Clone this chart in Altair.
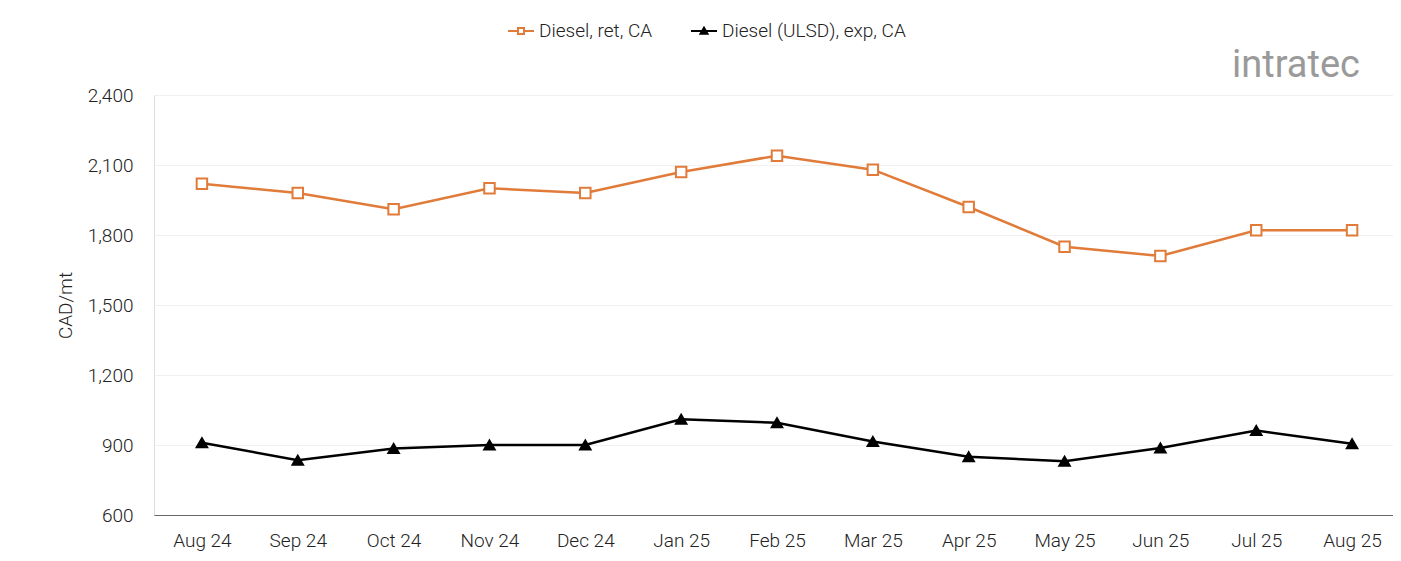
import altair as alt
import pandas as pd

months = ["Aug 24", "Sep 24", "Oct 24", "Nov 24", "Dec 24", "Jan 25", "Feb 25",
          "Mar 25", "Apr 25", "May 25", "Jun 25", "Jul 25", "Aug 25"]
series_names = ["Diesel, ret, CA", "Diesel (ULSD), exp, CA"]
diesel_ret = [2020, 1980, 1910, 2000, 1980, 2070, 2140, 2080, 1920, 1750, 1710, 1820, 1820]
diesel_exp = [910, 835, 885, 900, 900, 1010, 995, 915, 850, 830, 887, 962, 905]
y_ticks = [600, 900, 1200, 1500, 1800, 2100, 2400]

rows = []
for m, v in zip(months, diesel_ret):
    rows.append({"month": m, "series": series_names[0], "value": v})
for m, v in zip(months, diesel_exp):
    rows.append({"month": m, "series": series_names[1], "value": v})
df = pd.DataFrame(rows)

FONT = "Roboto"
ORANGE = "#e07b39"
TXT = "#222222"

stroke_scale = alt.Scale(domain=series_names, range=[ORANGE, "#000000"])
fill_scale = alt.Scale(domain=series_names, range=["#ffffff", "#000000"])
shape_scale = alt.Scale(domain=series_names, range=["square", "triangle-up"])

sq_path = "M-1,0H-0.23M0.23,0H1M-0.23,-0.23H0.23V0.23H-0.23Z"
tri_path = "M-1,0H1M-0.27,0.22L0,-0.25L0.27,0.22Z"
legend_shape_scale = alt.Scale(domain=series_names, range=[sq_path, tri_path])

legend = alt.Legend(
    title=None, orient="none", direction="horizontal", legendX=353, legendY=-78,
    labelFont=FONT, labelFontSize=19, labelFontWeight=300, labelColor=TXT,
    labelLimit=400, symbolSize=676, symbolStrokeWidth=2, columnPadding=34, labelOffset=4,
)

x_enc = alt.X("month:N", sort=months, title=None,
              scale=alt.Scale(paddingInner=0, paddingOuter=0.5, range=[0, 1246]),
              axis=alt.Axis(labelAngle=0, labelFont=FONT, labelFontSize=19,
                            labelFontWeight=300, labelColor=TXT, labelPadding=16,
                            ticks=False, domain=True, domainColor="#666666", grid=False))
y_enc = alt.Y("value:Q", title="CAD/mt",
              scale=alt.Scale(domain=[600, 2400], nice=False),
              axis=alt.Axis(values=y_ticks, format=",.0f", labelFont=FONT, labelFontSize=19,
                            labelFontWeight=300, labelColor=TXT, labelPadding=21,
                            ticks=False, domain=False, gridColor="#f0f0f0", gridWidth=1,
                            titleFont=FONT, titleFontSize=19, titleFontWeight=300,
                            titleColor=TXT, titlePadding=12))

base = alt.Chart(df)
lines = base.mark_line(strokeWidth=2.5).encode(
    x=x_enc, y=y_enc,
    stroke=alt.Stroke("series:N", scale=stroke_scale, legend=None),
)
points = base.mark_point(filled=True, size=110, strokeWidth=2, opacity=1).encode(
    x=x_enc, y=y_enc,
    stroke=alt.Stroke("series:N", scale=stroke_scale, legend=None),
    fill=alt.Fill("series:N", scale=fill_scale, legend=None),
    shape=alt.Shape("series:N", scale=shape_scale, legend=None),
)
legend_layer = base.transform_filter("false").mark_point(
    filled=True, strokeWidth=2, opacity=1
).encode(
    x=x_enc, y=y_enc,
    stroke=alt.Stroke("series:N", scale=stroke_scale, legend=legend),
    fill=alt.Fill("series:N", scale=fill_scale, legend=legend),
    shape=alt.Shape("series:N", scale=legend_shape_scale, legend=legend),
)

logo = alt.Chart(pd.DataFrame({"t": ["intratec"]})).mark_text(
    font=FONT, fontSize=38, fontWeight=400, color="#9a9a9a", align="left", baseline="alphabetic"
).encode(text="t:N", x=alt.value(1078), y=alt.value(-18))

chart = alt.layer(lines, points, legend_layer, logo).resolve_scale(
    stroke="independent", fill="independent", shape="independent"
).properties(
    width=1239, height=420,
    autosize=alt.AutoSizeParams(type="none"),
    padding={"left": 146, "top": 87, "right": 0, "bottom": 46},
).configure_view(stroke=None).configure(background="white")

chart.save("out.html", embed_options={"renderer": "svg", "actions": False})
